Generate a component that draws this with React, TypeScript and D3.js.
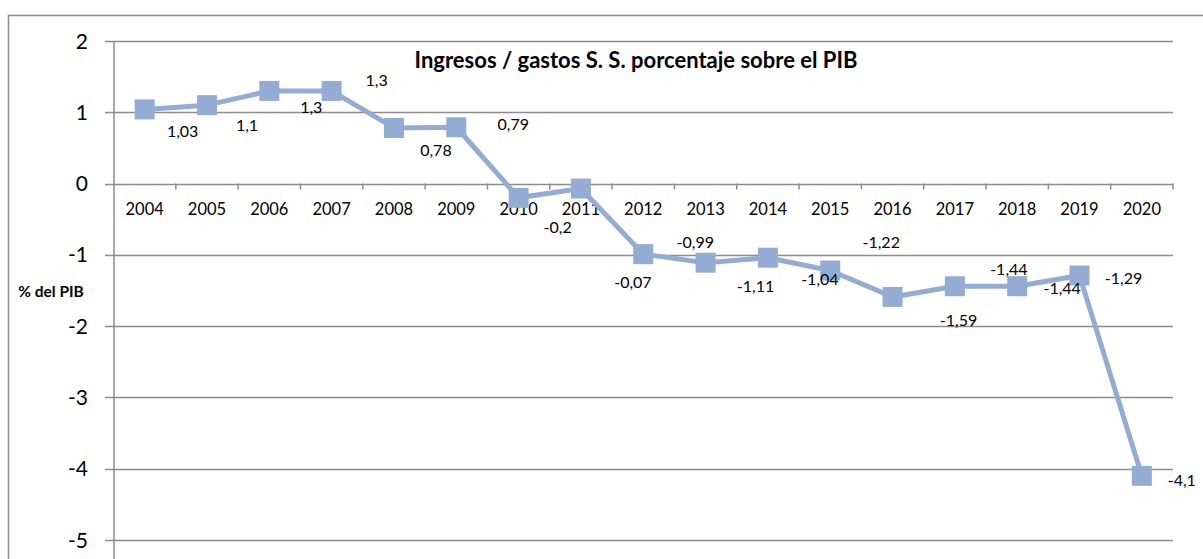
import * as d3 from 'd3';
import React, { useEffect, useRef } from 'react';

const years = ['2004', '2005', '2006', '2007', '2008', '2009', '2010', '2011', '2012', '2013', '2014', '2015', '2016', '2017', '2018', '2019', '2020'];
const values = [1.04, 1.1, 1.3, 1.3, 0.78, 0.79, -0.2, -0.07, -0.99, -1.11, -1.04, -1.22, -1.59, -1.44, -1.44, -1.29, -4.1];
const labels = ['1,03', '1,1', '1,3', '1,3', '0,78', '0,79', '-0,2', '-0,07', '-0,99', '-1,11', '-1,04', '-1,22', '-1,59', '-1,44', '-1,44', '-1,29', '-4,1'];
const yTicks = [2, 1, 0, -1, -2, -3, -4, -5];

// label offsets from the marker (as placed in the original chart)
const labelOffsets: [number, number][] = [
  [38, 22], [40, 20], [42, 16], [45, -11], [42, 22], [57, -3], [39, 29], [52, 94], [52, -12],
  [50, 24], [52, 22], [51, -28], [66, 23], [54, -17], [45, 2], [44, 3], [40, 4],
];

const W = 1203;
const H = 559;

const App: React.FC = () => {
  const svgRef = useRef<SVGSVGElement | null>(null);

  useEffect(() => {
    if (!svgRef.current) return;
    const svg = d3.select(svgRef.current);
    svg.selectAll('*').remove();

    const font = 'Lato, "Open Sans", sans-serif';
    const x = d3.scaleBand().domain(years).range([113.5, 1173]);
    const y = d3.scaleLinear().domain([-5, 2]).range([540, 41]);
    const color = '#94abd3';

    // outer frame
    svg.append('rect')
      .attr('x', 8.5).attr('y', 15.5)
      .attr('width', 1200).attr('height', 560)
      .attr('fill', 'none').attr('stroke', '#8c8c8c').attr('stroke-width', 1.5);

    // gridlines
    svg.append('g')
      .selectAll('line')
      .data(yTicks)
      .enter()
      .append('line')
      .attr('x1', 105).attr('x2', 1173)
      .attr('y1', (d) => Math.round(y(d)) + 0.5)
      .attr('y2', (d) => Math.round(y(d)) + 0.5)
      .attr('stroke', '#8c8c8c').attr('stroke-width', 1.5);

    // y axis line
    svg.append('line')
      .attr('x1', 114).attr('x2', 114)
      .attr('y1', y(2)).attr('y2', H)
      .attr('stroke', '#8c8c8c').attr('stroke-width', 1.5);

    // y tick labels
    svg.append('g')
      .selectAll('text')
      .data(yTicks)
      .enter()
      .append('text')
      .attr('x', 88)
      .attr('y', (d) => y(d))
      .attr('dy', '0.36em')
      .attr('text-anchor', 'end')
      .style('font-family', font)
      .style('font-size', '21px')
      .attr('fill', '#000')
      .text((d) => String(d));

    // x axis ticks at zero
    const bounds = years.map((d) => x(d)!).concat([x.range()[1]]);
    svg.append('g')
      .selectAll('line')
      .data(bounds.slice(1))
      .enter()
      .append('line')
      .attr('x1', (d) => d).attr('x2', (d) => d)
      .attr('y1', y(0)).attr('y2', y(0) + 6)
      .attr('stroke', '#8c8c8c').attr('stroke-width', 1.5);

    // category labels
    svg.append('g')
      .selectAll('text')
      .data(years)
      .enter()
      .append('text')
      .attr('x', (d) => x(d)! + x.bandwidth() / 2)
      .attr('y', 209)
      .attr('dy', '0.36em')
      .attr('text-anchor', 'middle')
      .style('font-family', font)
      .style('font-size', '16.5px')
      .text((d) => d);

    // line
    const line = d3.line<number>()
      .x((_, i) => x(years[i])! + x.bandwidth() / 2)
      .y((d) => y(d));
    svg.append('path')
      .datum(values)
      .attr('d', line)
      .attr('fill', 'none')
      .attr('stroke', color)
      .attr('stroke-width', 5)
      .attr('stroke-linejoin', 'round');

    // markers
    svg.append('g')
      .selectAll('rect')
      .data(values)
      .enter()
      .append('rect')
      .attr('x', (_, i) => x(years[i])! + x.bandwidth() / 2 - 10)
      .attr('y', (d) => y(d) - 10)
      .attr('width', 20).attr('height', 20)
      .attr('fill', color);

    // data labels
    svg.append('g')
      .selectAll('text')
      .data(values)
      .enter()
      .append('text')
      .attr('x', (_, i) => x(years[i])! + x.bandwidth() / 2 + labelOffsets[i][0])
      .attr('y', (d, i) => y(d) + labelOffsets[i][1])
      .attr('dy', '0.36em')
      .attr('text-anchor', 'middle')
      .style('font-family', font)
      .style('font-size', '16px')
      .text((_, i) => labels[i]);

    // title
    svg.append('text')
      .attr('x', 636).attr('y', 60)
      .attr('dy', '0.36em')
      .attr('text-anchor', 'middle')
      .style('font-family', font)
      .style('font-size', '22px')
      .style('font-weight', 'bold')
      .text('Ingresos / gastos S. S. porcentaje sobre el PIB');

    // y axis title
    svg.append('text')
      .attr('x', 51).attr('y', 291)
      .attr('dy', '0.36em')
      .attr('text-anchor', 'middle')
      .style('font-family', font)
      .style('font-size', '15.5px')
      .style('font-weight', 'bold')
      .text('% del PIB');
  }, []);

  return (
    <svg ref={svgRef} width={W} height={H} style={{ position: 'absolute', left: 0, top: 0, background: '#fff' }}>
      {/* chart drawn by d3 */}
    </svg>
  );
};

export default App;
